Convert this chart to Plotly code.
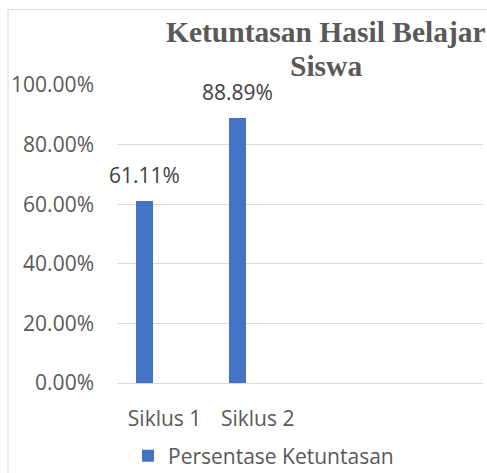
import plotly.graph_objects as go

categories = ["Siklus 1", "Siklus 2"]
values = [0.6111, 0.8889]
labels = ["61.11%", "88.89%"]
series_name = "Persentase Ketuntasan"
title_lines = ["Ketuntasan Hasil Belajar", "Siswa"]
y_ticks = [0, 0.2, 0.4, 0.6, 0.8, 1.0]

W, H = 487, 473
L, R, T, B = 118, 4, 85, 90
pw = W - L - R
ph = H - T - B


def py(p):
    """pixel row -> paper y"""
    return (H - B - p) / ph


def px(p):
    return (p - L) / pw


font_fam = "Open Sans, Noto Sans, sans-serif"
gray = "#595959"

fig = go.Figure()
fig.add_trace(go.Bar(
    x=categories, y=values, name=series_name,
    marker=dict(color="#4472C4", line=dict(width=0)),
    width=0.183, offset=-0.312,
))

for c, v, t in zip(categories, values, labels):
    fig.add_annotation(x=c, y=v, text=t, showarrow=False, xref="x", yref="y",
                       xshift=-20.5, yanchor="middle", yshift=26,
                       font=dict(family=font_fam, size=21, color="#404040"))

title_font = dict(family="Liberation Serif, Times New Roman, serif", size=29.5,
                  color=gray, weight="bold")
for line, ypx in zip(title_lines, [32, 66]):
    fig.add_annotation(x=px(326), y=py(ypx), xref="paper", yref="paper", text=line,
                       showarrow=False, xanchor="center", yanchor="middle",
                       font=title_font)

fig.add_shape(type="rect", xref="paper", yref="paper",
              x0=px(8), x1=px(W + 20),
              y0=py(H + 20), y1=py(9.5),
              line=dict(color="#d9d9d9", width=1), fillcolor="rgba(0,0,0,0)", layer="below")

fig.update_layout(
    width=W, height=H,
    margin=dict(l=L, r=R, t=T, b=B, pad=0),
    paper_bgcolor="white", plot_bgcolor="white",
    showlegend=True,
    legend=dict(orientation="h", xref="container", x=128 / W, xanchor="left",
                yref="container", y=1 - 456 / H, yanchor="middle",
                font=dict(family=font_fam, size=21, color=gray),
                itemwidth=30),
    xaxis=dict(type="category", categoryarray=categories, range=[-0.5, 3.42],
               showgrid=False, showline=False, zeroline=False, ticks="",
               tickfont=dict(family=font_fam, size=21, color=gray),
               ticklabelstandoff=21, fixedrange=True, automargin=False),
    yaxis=dict(range=[0, 1], tickvals=y_ticks, tickformat=".2%",
               showgrid=True, gridcolor="#d9d9d9", gridwidth=1,
               zeroline=True, zerolinecolor="#d9d9d9", zerolinewidth=1,
               showline=False, ticks="",
               tickfont=dict(family=font_fam, size=21, color=gray),
               ticklabelstandoff=23, automargin=False),
    bargap=0,
)

fig.write_html("out.html", config={"displayModeBar": False},
               post_script="document.body.style.margin='0';")
